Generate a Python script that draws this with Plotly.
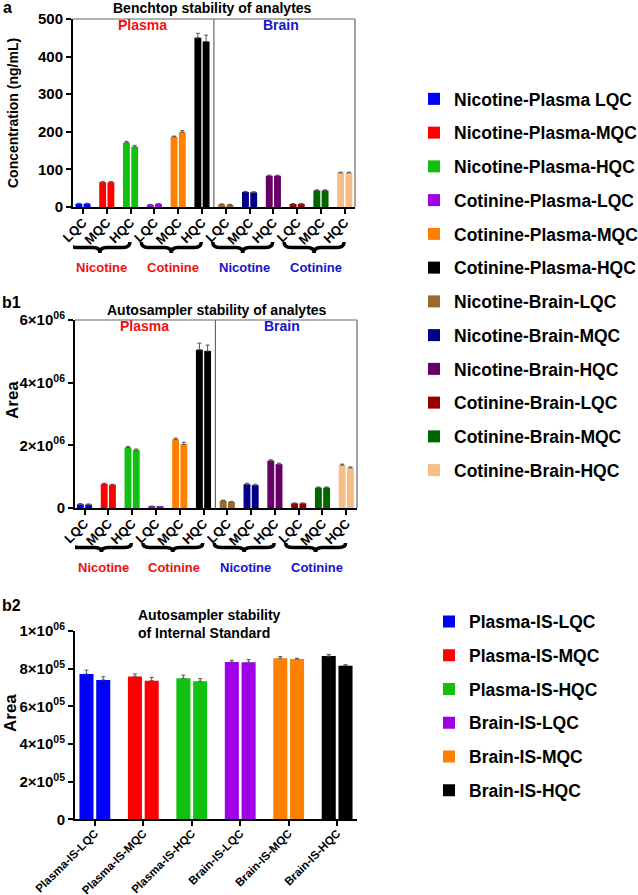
import plotly.graph_objects as go

W, H = 638, 895
FONT = "Liberation Sans, Arial, Helvetica, sans-serif"

# ---------------- data ----------------
qc_labels = ["LQC", "MQC", "HQC"] * 4
series_names = [
    "Nicotine-Plasma LQC", "Nicotine-Plasma-MQC", "Nicotine-Plasma-HQC",
    "Cotinine-Plasma-LQC", "Cotinine-Plasma-MQC", "Cotinine-Plasma-HQC",
    "Nicotine-Brain-LQC", "Nicotine-Brain-MQC", "Nicotine-Brain-HQC",
    "Cotinine-Brain-LQC", "Cotinine-Brain-MQC", "Cotinine-Brain-HQC",
]
series_colors = [
    "#0000ff", "#ff0000", "#12c012",
    "#a000e6", "#ff8000", "#000000",
    "#9a6a2c", "#000088", "#660066",
    "#990000", "#006600", "#f4be86",
]
# panel a: benchtop concentration (ng/mL), two replicates per level
bench_values = [
    [9, 9], [66, 66], [171, 160],
    [6, 8], [187, 199], [450, 440],
    [7, 6], [40, 39], [83, 83],
    [8, 8], [44, 44], [91, 91],
]
bench_errors = [
    [1, 1], [1.5, 1.5], [3.5, 4],
    [1, 1], [1.5, 4], [12, 17],
    [1, 1], [1.5, 1.5], [1.5, 1.5],
    [1, 1], [1.5, 1.5], [1.5, 1.5],
]
# panel b1: autosampler area
auto_values = [
    [0.12e6, 0.11e6], [0.77e6, 0.74e6], [1.93e6, 1.85e6],
    [0.05e6, 0.04e6], [2.19e6, 2.03e6], [5.05e6, 5.01e6],
    [0.23e6, 0.19e6], [0.76e6, 0.73e6], [1.51e6, 1.40e6],
    [0.15e6, 0.15e6], [0.65e6, 0.65e6], [1.37e6, 1.28e6],
]
auto_errors = [
    [0.02e6, 0.02e6], [0.02e6, 0.02e6], [0.03e6, 0.03e6],
    [0.01e6, 0.01e6], [0.04e6, 0.07e6], [0.21e6, 0.19e6],
    [0.02e6, 0.02e6], [0.03e6, 0.03e6], [0.03e6, 0.03e6],
    [0.01e6, 0.01e6], [0.02e6, 0.02e6], [0.03e6, 0.03e6],
]
group_labels = ["Nicotine", "Cotinine", "Nicotine", "Cotinine"]
group_colors = ["#ee1111", "#ee1111", "#1515cc", "#1515cc"]
matrix_labels = ["Plasma", "Brain"]
matrix_colors = ["#ee1111", "#1515cc"]

# panel b2: internal standard
is_names = ["Plasma-IS-LQC", "Plasma-IS-MQC", "Plasma-IS-HQC",
            "Brain-IS-LQC", "Brain-IS-MQC", "Brain-IS-HQC"]
is_colors = ["#0000ff", "#ff0000", "#12c012", "#a000e6", "#ff8000", "#000000"]
is_values = [
    [7.72e5, 7.40e5], [7.59e5, 7.36e5], [7.49e5, 7.33e5],
    [8.35e5, 8.34e5], [8.55e5, 8.51e5], [8.67e5, 8.16e5],
]
is_errors = [
    [0.20e5, 0.17e5], [0.13e5, 0.18e5], [0.17e5, 0.14e5],
    [0.10e5, 0.14e5], [0.09e5, 0.04e5], [0.09e5, 0.05e5],
]

b1_tickvals = [0, 2e6, 4e6, 6e6]
b1_ticktext = ["0", "2×10<sup>06</sup>", "4×10<sup>06</sup>", "6×10<sup>06</sup>"]
b2_tickvals = [0, 2e5, 4e5, 6e5, 8e5, 1e6]
b2_ticktext = ["0", "2×10<sup>05</sup>", "4×10<sup>05</sup>", "6×10<sup>05</sup>",
               "8×10<sup>05</sup>", "1×10<sup>06</sup>"]


def px(p):
    return p / W


def py(p):
    return 1 - p / H


HALF = 0.173   # half distance between replicate bars (category units)
BW = 0.29      # bar width (category units)

fig = go.Figure()


def add_series(idx, name, color, vals, errs, xa, ya, legend, showlegend):
    xs = [idx - HALF, idx + HALF]
    fig.add_trace(go.Bar(
        x=xs, y=vals, width=[BW, BW], name=name,
        marker=dict(color=color, line=dict(width=0)),
        error_y=dict(type="data", symmetric=False, array=errs, arrayminus=[0, 0],
                     color="#555555", thickness=1, width=2),
        xaxis=xa, yaxis=ya, legend=legend, legendgroup=name + legend,
        showlegend=showlegend,
    ))


for i, name in enumerate(series_names):
    add_series(i, name, series_colors[i], bench_values[i], bench_errors[i],
               "x", "y", "legend", True)
for i, name in enumerate(series_names):
    add_series(i, name, series_colors[i], auto_values[i], auto_errors[i],
               "x2", "y2", "legend", False)
for i, name in enumerate(is_names):
    add_series(i, name, is_colors[i], is_values[i], is_errors[i],
               "x3", "y3", "legend2", True)

tickfont_x = dict(family=FONT, size=13, color="black", weight="bold")
tickfont_y = dict(family=FONT, size=15, color="black", weight="bold")
axis_common = dict(showline=True, linecolor="black", linewidth=2, ticks="outside",
                   ticklen=5, tickwidth=2, tickcolor="black", showgrid=False,
                   zeroline=False, fixedrange=True, automargin=False)

fig.update_layout(
    width=W, height=H, margin=dict(l=0, r=0, t=0, b=0, autoexpand=False),
    paper_bgcolor="white", plot_bgcolor="white",
    barmode="overlay", showlegend=True,
    xaxis=dict(domain=[px(73), px(355)], range=[-0.42, 11.43], anchor="y",
               tickmode="array", tickvals=list(range(12)), ticktext=qc_labels,
               tickangle=-45, tickfont=tickfont_x, ticklabelstandoff=-4, **axis_common),
    yaxis=dict(domain=[py(207), py(19)], range=[0, 500], anchor="x",
               tickvals=[0, 100, 200, 300, 400, 500], tickfont=tickfont_y, **axis_common),
    xaxis2=dict(domain=[px(75), px(357)], range=[-0.40, 11.45], anchor="y2",
                tickmode="array", tickvals=list(range(12)), ticktext=qc_labels,
                tickangle=-45, tickfont=tickfont_x, ticklabelstandoff=-4, **axis_common),
    yaxis2=dict(domain=[py(508), py(320)], range=[0, 6e6], anchor="x2",
                tickvals=b1_tickvals, ticktext=b1_ticktext, tickfont=tickfont_y,
                **axis_common),
    xaxis3=dict(domain=[px(75), px(357)], range=[-0.41, 5.41], anchor="y3",
                tickmode="array", tickvals=list(range(6)), ticktext=is_names,
                tickangle=-45, ticklabelstandoff=-4,
                tickfont=dict(family=FONT, size=11.5, color="black", weight="bold"),
                **axis_common),
    yaxis3=dict(domain=[py(819.3), py(631)], range=[0, 1e6], anchor="x3",
                tickvals=b2_tickvals, ticktext=b2_ticktext, tickfont=tickfont_y,
                **axis_common),
    legend=dict(x=px(414), y=py(81), xanchor="left", yanchor="top",
                font=dict(family=FONT, size=17.5, color="black", weight="bold"),
                tracegroupgap=8, bgcolor="rgba(0,0,0,0)", borderwidth=0,
                traceorder="grouped"),
    legend2=dict(x=px(429), y=py(603.5), xanchor="left", yanchor="top",
                 font=dict(family=FONT, size=17.5, color="black", weight="bold"),
                 tracegroupgap=8, bgcolor="rgba(0,0,0,0)", borderwidth=0,
                 traceorder="grouped"),
)

shapes = []
annotations = []
# box borders and divider for panels a and b1
for xa, ya in (("x", "y"), ("x2", "y2")):
    shapes.append(dict(type="line", xref=xa + " domain", yref=ya + " domain",
                       x0=0, x1=1, y0=1, y1=1, line=dict(color="#666666", width=1.2)))
    shapes.append(dict(type="line", xref=xa + " domain", yref=ya + " domain",
                       x0=1, x1=1, y0=0, y1=1, line=dict(color="#666666", width=1.2)))
    shapes.append(dict(type="line", xref=xa, yref=ya + " domain",
                       x0=5.5, x1=5.5, y0=0, y1=1, line=dict(color="#666666", width=1.2)))

# braces + group labels
for xa, (ytop, ymid, ytip, ylab) in (("x", (242, 247.5, 253, 267)),
                                     ("x2", (543, 547.5, 552, 567))):
    for g in range(4):
        a0 = 3 * g - 0.55
        b0 = 3 * g + 2 - 0.03
        m0 = (a0 + b0) / 2
        r = 0.28
        y0, y1, y2 = py(ytop), py(ymid), py(ytip)
        path = (f"M {a0},{y0} Q {a0},{y1} {a0 + r},{y1} L {m0 - r},{y1} "
                f"Q {m0},{y1} {m0},{y2} Q {m0},{y1} {m0 + r},{y1} "
                f"L {b0 - r},{y1} Q {b0},{y1} {b0},{y0}")
        shapes.append(dict(type="path", xref=xa, yref="paper", path=path,
                           line=dict(color="black", width=3.5)))
        annotations.append(dict(x=3 * g + 1 - 0.22, y=py(ylab), xref=xa, yref="paper",
                                text=group_labels[g], showarrow=False,
                                font=dict(family=FONT, size=13, color=group_colors[g],
                                          weight="bold"),
                                xanchor="center", yanchor="middle"))
    # Plasma / Brain labels
    yref_ = "y" if xa == "x" else "y2"
    for k, xpos in enumerate((2.5, 8.3)):
        annotations.append(dict(x=xpos, y=0.97, xref=xa, yref=yref_ + " domain",
                                text=matrix_labels[k], showarrow=False,
                                font=dict(family=FONT, size=14, color=matrix_colors[k],
                                          weight="bold"),
                                xanchor="center", yanchor="middle"))

# titles
bold = lambda s: dict(family=FONT, size=s, color="black", weight="bold")
annotations += [
    dict(x=px(212), y=py(8), xref="paper", yref="paper", text="Benchtop stability of analytes",
         showarrow=False, font=bold(14), xanchor="center", yanchor="middle"),
    dict(x=px(217), y=py(310), xref="paper", yref="paper",
         text="Autosampler stability of analytes", showarrow=False, font=bold(14),
         xanchor="center", yanchor="middle"),
    dict(x=px(136), y=py(624), xref="paper", yref="paper",
         text="Autosampler stability<br>of Internal Standard", showarrow=False,
         font=bold(14), xanchor="left", yanchor="middle", align="left"),
    dict(x=px(1), y=py(7), xref="paper", yref="paper", text="a", showarrow=False,
         font=bold(16), xanchor="left", yanchor="middle"),
    dict(x=px(0), y=py(302), xref="paper", yref="paper", text="b1", showarrow=False,
         font=bold(16), xanchor="left", yanchor="middle"),
    dict(x=px(0), y=py(605), xref="paper", yref="paper", text="b2", showarrow=False,
         font=bold(16), xanchor="left", yanchor="middle"),
    dict(x=px(13), y=py(113), xref="paper", yref="paper", text="Concentration (ng/mL)",
         showarrow=False, font=bold(14), textangle=-90, xanchor="center", yanchor="middle"),
    dict(x=px(12), y=py(400), xref="paper", yref="paper", text="Area",
         showarrow=False, font=bold(17), textangle=-90, xanchor="center", yanchor="middle"),
    dict(x=px(10), y=py(713), xref="paper", yref="paper", text="Area",
         showarrow=False, font=bold(17), textangle=-90, xanchor="center", yanchor="middle"),
]

fig.update_layout(shapes=shapes, annotations=annotations)
fig.write_html("out.html", config={"displayModeBar": False},
               post_script="document.body.style.margin='0px';")
